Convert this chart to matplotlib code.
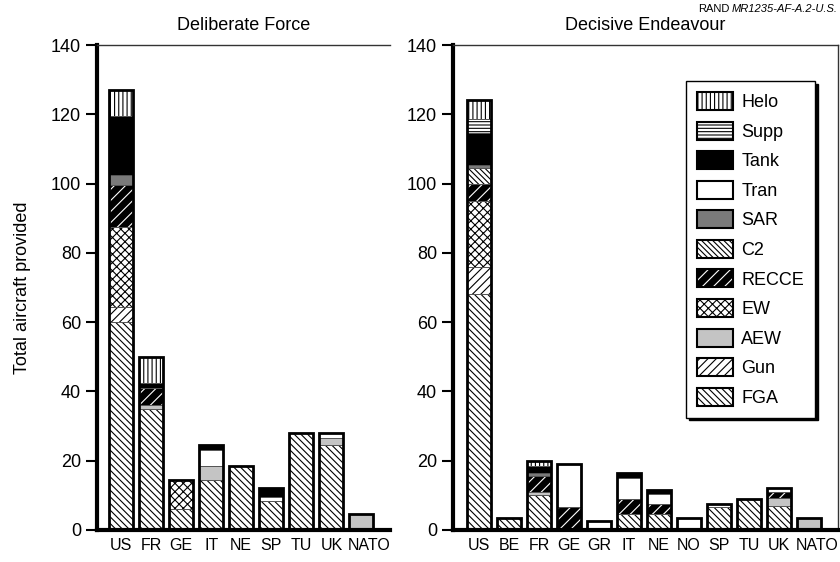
import matplotlib
matplotlib.use('Agg')
import matplotlib.pyplot as plt
import matplotlib.transforms as mtransforms
from matplotlib.patches import Patch
import numpy as np

plt.rcParams['font.family'] = ['Liberation Sans', 'DejaVu Sans']
plt.rcParams['hatch.linewidth'] = 0.8

# segment types, stacked bottom to top
seg_names = ['FGA', 'Gun', 'AEW', 'EW', 'RECCE', 'C2', 'SAR', 'Tran', 'Tank', 'Supp', 'Helo']

# Deliberate Force
df_countries = ['US', 'FR', 'GE', 'IT', 'NE', 'SP', 'TU', 'UK', 'NATO']
df_fga   = [60, 35, 6, 14.5, 18.5, 8.5, 28, 24.5, 0]
df_gun   = [4.5, 0, 0, 0, 0, 0, 0, 0, 0]
df_aew   = [0, 1, 0, 4, 0, 0, 0, 2, 4.5]
df_ew    = [23, 0, 8.5, 0, 0, 0, 0, 0, 0]
df_recce = [12, 5, 0, 0, 0, 0, 0, 0, 0]
df_c2    = [0, 0, 0, 0, 0, 0, 0, 0, 0]
df_sar   = [3, 0, 0, 0, 0, 0, 0, 0, 0]
df_tran  = [0, 0, 0, 4.5, 0, 1, 0, 1.5, 0]
df_tank  = [17, 1.5, 0, 1.5, 0, 2.5, 0, 0, 0]
df_supp  = [0, 0, 0, 0, 0, 0, 0, 0, 0]
df_helo  = [7.5, 7.5, 0, 0, 0, 0, 0, 0, 0]

# Decisive Endeavour
de_countries = ['US', 'BE', 'FR', 'GE', 'GR', 'IT', 'NE', 'NO', 'SP', 'TU', 'UK', 'NATO']
de_fga   = [68, 3.5, 10, 0, 0, 4.5, 4.5, 0, 6.5, 9, 7, 0]
de_gun   = [8, 0, 0, 0, 0, 0, 0, 0, 0, 0, 0, 0]
de_aew   = [0, 0, 1, 0, 0, 0, 0, 0, 0, 0, 2.3, 3.5]
de_ew    = [19, 0, 0, 0, 0, 0, 0, 0, 0, 0, 0, 0]
de_recce = [5, 0, 4.5, 6.5, 0, 4.5, 3, 0, 0, 0, 1.7, 0]
de_c2    = [4.5, 0, 0, 0, 0, 0, 0, 0, 0, 0, 0, 0]
de_sar   = [1, 0, 1, 0, 0, 0, 0, 0, 0, 0, 0, 0]
de_tran  = [0, 0, 0, 12.5, 2.5, 6, 3, 3.5, 1, 0, 1.2, 0]
de_tank  = [9, 0, 2, 0, 0, 1.5, 1, 0, 0, 0, 0, 0]
de_supp  = [4, 0, 0, 0, 0, 0, 0, 0, 0, 0, 0, 0]
de_helo  = [5.5, 0, 1.5, 0, 0, 0, 0, 0, 0, 0, 0, 0]

df_data = [df_fga, df_gun, df_aew, df_ew, df_recce, df_c2, df_sar, df_tran, df_tank, df_supp, df_helo]
de_data = [de_fga, de_gun, de_aew, de_ew, de_recce, de_c2, de_sar, de_tran, de_tank, de_supp, de_helo]

# face colour, hatch, hatch colour
styles = {
    'FGA':   ('white', '\\' * 5, 'black'),
    'Gun':   ('white', '////', 'black'),
    'AEW':   ('#c4c4c4', '', 'black'),
    'EW':    ('white', 'xxxx', 'black'),
    'RECCE': ('black', '///', 'white'),
    'C2':    ('white', '\\' * 6, 'black'),
    'SAR':   ('#7a7a7a', '', 'black'),
    'Tran':  ('white', '', 'black'),
    'Tank':  ('black', '', 'black'),
    'Supp':  ('white', '-----', 'black'),
    'Helo':  ('white', '||||', 'black'),
}


def draw_panel(ax, countries, data, title, xlim):
    x = np.arange(len(countries))
    bottom = np.zeros(len(countries))
    for name, vals in zip(seg_names, data):
        vals = np.array(vals, dtype=float)
        fc, hatch, hc = styles[name]
        ax.bar(x, vals, 0.8, bottom=bottom, color=fc, hatch=hatch,
               edgecolor=hc, linewidth=0, zorder=2)
        ax.bar(x, vals, 0.8, bottom=bottom, fill=False,
               edgecolor='#555555', linewidth=0.6, zorder=3)
        bottom += vals
    ax.bar(x, bottom, 0.8, fill=False, edgecolor='black', linewidth=2, zorder=4)

    ax.set_xlim(*xlim)
    ax.set_ylim(0, 140)
    ax.set_yticks(np.arange(0, 141, 20))
    ax.set_xticks(x)
    ax.set_xticklabels(countries, fontsize=11.5)
    ax.tick_params(axis='x', length=0, pad=6)
    ax.tick_params(axis='y', labelsize=13, length=8, width=1.5, direction='out')
    ax.set_title(title, fontsize=13, pad=11)
    ax.spines['left'].set_linewidth(3)
    ax.spines['bottom'].set_linewidth(3)
    ax.spines['top'].set_linewidth(1)
    ax.spines['top'].set_color('#333333')
    ax.spines['right'].set_linewidth(1)
    ax.spines['right'].set_color('#333333')
    # the last label (NATO) sits a little to the right, as in the original
    last = ax.get_xticklabels()[-1]
    last.set_transform(last.get_transform() +
                       mtransforms.ScaledTranslation(8 / 100, 0, ax.figure.dpi_scale_trans))


fig = plt.figure(figsize=(8.4, 5.62), dpi=100)
ax1 = fig.add_axes([97 / 840, 32 / 562, 293 / 840, 485 / 562])
ax2 = fig.add_axes([453 / 840, 32 / 562, 385 / 840, 485 / 562])

draw_panel(ax1, df_countries, df_data, 'Deliberate Force', (-0.8, 8.95))
draw_panel(ax2, de_countries, de_data, 'Decisive Endeavour', (-0.87, 11.97))
ax1.spines['right'].set_visible(False)
ax1.set_ylabel('Total aircraft provided', fontsize=13, labelpad=14)

# legend, top entry first
handles = []
for name in seg_names[::-1]:
    fc, hatch, hc = styles[name]
    fill = Patch(facecolor=fc, hatch=hatch, edgecolor=hc, linewidth=0)
    outline = Patch(fill=False, edgecolor='black', linewidth=1.5)
    handles.append((fill, outline))
leg = ax2.legend(handles, seg_names[::-1], loc='upper right',
                 bbox_to_anchor=(0.94, 0.925), fontsize=13, frameon=True,
                 fancybox=False, edgecolor='black', framealpha=1,
                 shadow={'color': 'black', 'alpha': 1},
                 handlelength=2.0, handleheight=1.15, handletextpad=0.45,
                 labelspacing=0.58, borderpad=0.6, borderaxespad=0)
leg.get_frame().set_linewidth(1.0)
leg.set_zorder(10)

fig.text(0.997, 0.984, 'MR1235-AF-A.2-U.S.', fontsize=8, ha='right', va='center',
         style='italic')
fig.text(0.868, 0.984, 'RAND', fontsize=8, ha='right', va='center')

fig.savefig('out.png', dpi=100)
